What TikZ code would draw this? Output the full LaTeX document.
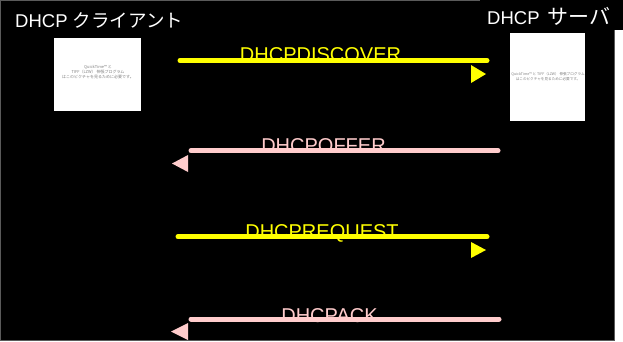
\documentclass[tikz,border=0pt]{standalone}
\usepackage{fontspec}
\setmainfont{Liberation Sans}
\newfontfamily\cjk{Noto Sans CJK JP}
\definecolor{dyellow}{RGB}{255,255,0}
\definecolor{dpink}{RGB}{255,204,204}
\definecolor{frame}{RGB}{90,90,90}
\begin{document}
\begin{tikzpicture}[x=1pt,y=-1pt,
  title/.style={text=white, font=\fontsize{18.5}{20}\selectfont, inner sep=0, anchor=base west},
  msg/.style={font=\fontsize{20}{22}\selectfont, inner sep=0, anchor=base},
  wire/.style={line width=5pt, line cap=round},
  photo/.style={fill=white, draw=none, inner sep=0, anchor=north west},
  tinytext/.style={text=gray, font=\cjk\fontsize{4}{5}\selectfont, align=center, inner sep=0}]
\useasboundingbox (0,0) rectangle (623,341);
\fill[white] (0,0) rectangle (623,341);
\filldraw[fill=black, draw=frame, line width=1pt] (0.5,0.5) rectangle (614.5,340.5);
\fill[black] (480,0) rectangle (623,30);
% titles
\node[title] (ctitle) at (15,27) {DHCP {\cjk クライアント}};
\node[title] (stitle) at (487,24.5) {DHCP\hspace{3pt} {\cjk\fontsize{21}{22}\selectfont サーバ}};
% picture placeholders
\node[photo, minimum width=87, minimum height=73] (cbox) at (54,38) {};
\node[photo, minimum width=75, minimum height=88] (sbox) at (510,33) {};
\node[tinytext] (ctext) at (98,72.5) {QuickTime™ と\\TIFF（LZW） 伸張プログラム\\はこのピクチャを見るために必要です。};
\node[tinytext, font=\cjk\fontsize{3.6}{5.2}\selectfont] (stext) at (548,76.5) {QuickTime™ と TIFF（LZW） 伸張プログラム\\はこのピクチャを見るために必要です。};
% message labels
\node[msg, text=dyellow] (ldisc) at (320.5,61) {DHCPDISCOVER};
\node[msg, text=dpink] (loffer) at (323.5,152.5) {DHCPOFFER};
\node[msg, text=dyellow] (lreq) at (322,238.5) {DHCPREQUEST};
\node[msg, text=dpink] (lack) at (329.5,322.5) {DHCPACK};
% connector end points
\coordinate (d1) at (180,60.5);  \coordinate (d2) at (487,60.5);
\coordinate (o1) at (498,150.7); \coordinate (o2) at (191,150.7);
\coordinate (r1) at (178,236.7); \coordinate (r2) at (487,236.7);
\coordinate (a1) at (499,319);   \coordinate (a2) at (191,319);
% lines
\draw[wire, dyellow] (d1) -- (d2);
\draw[wire, dpink] (o1) -- (o2);
\draw[wire, dyellow] (r1) -- (r2);
\draw[wire, dpink] (a1) -- (a2);
% arrow heads
\fill[dyellow] (471,65) -- (486,74) -- (471,83) -- cycle;
\fill[dpink] (188,155) -- (172,163.5) -- (188,172) -- cycle;
\fill[dyellow] (471,242) -- (486,250) -- (471,258) -- cycle;
\fill[dpink] (188,323) -- (171,331.5) -- (188,340) -- cycle;
\end{tikzpicture}
\end{document}
